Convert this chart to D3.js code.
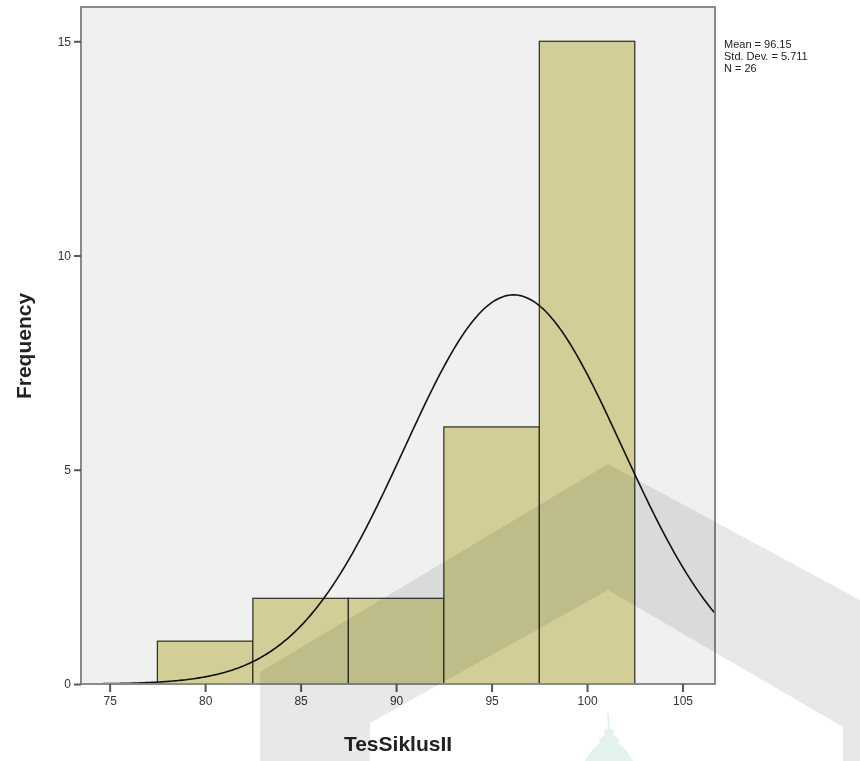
<!DOCTYPE html>
<html>
<head>
<meta charset="utf-8">
<script src="https://cdn.jsdelivr.net/npm/d3@7"></script>
<style>
  body { margin: 0; background: #fff; }
  svg { display: block; }
  .tick text { font-family: "Liberation Sans Narrow", "Liberation Sans", Arial, sans-serif; font-size: 12px; fill: #333; }
</style>
</head>
<body>
<svg id="grafico"></svg>
<script>
// histogram data
const inicioClasses = [77.5, 82.5, 87.5, 92.5, 97.5];
const frequencias = [1, 2, 2, 6, 15];
const larguraClasse = 5;
const ticksX = [75, 80, 85, 90, 95, 100, 105];
const ticksY = [0, 5, 10, 15];
const estatisticas = ['Mean = 96.15', 'Std. Dev. = 5.711', 'N = 26'];
const media = 96.15, desvio = 5.711, n = 26;

const largura = 860, altura = 761;
const margem = { esquerda: 81, direita: 145, superior: 7, inferior: 77 };

const svg = d3.select('#grafico').attr('width', largura).attr('height', altura);

const fnX = d3.scaleLinear().domain([73.5, 106.7]).range([margem.esquerda, largura - margem.direita]);
const fnY = d3.scaleLinear().domain([0, 15.8]).range([altura - margem.inferior, margem.superior]);

// plot background
svg.append('rect')
    .attr('x', fnX.range()[0]).attr('y', fnY.range()[1])
    .attr('width', fnX.range()[1] - fnX.range()[0])
    .attr('height', fnY.range()[0] - fnY.range()[1])
    .attr('fill', '#f0f0f0');

// bars
svg.selectAll('.barra').data(inicioClasses).enter().append('rect')
    .classed('barra', true)
    .attr('x', d => fnX(d))
    .attr('y', (d, i) => fnY(frequencias[i]))
    .attr('width', d => fnX(d + larguraClasse) - fnX(d))
    .attr('height', (d, i) => fnY(0) - fnY(frequencias[i]))
    .attr('fill', '#d3ce97')
    .attr('stroke', '#2b2b20')
    .attr('stroke-width', 1.2);

// normal curve fitted from the shown mean / sd / N
const pontos = d3.range(fnX.domain()[0], fnX.domain()[1] + 0.01, 0.1).map(x => {
    const z = (x - media) / desvio;
    return [x, n * larguraClasse * Math.exp(-0.5 * z * z) / (desvio * Math.sqrt(2 * Math.PI))];
});
svg.append('path')
    .datum(pontos)
    .attr('d', d3.line().x(d => fnX(d[0])).y(d => fnY(d[1])))
    .attr('fill', 'none')
    .attr('stroke', '#111')
    .attr('stroke-width', 1.6);

// frame
svg.append('rect')
    .attr('x', fnX.range()[0]).attr('y', fnY.range()[1])
    .attr('width', fnX.range()[1] - fnX.range()[0])
    .attr('height', fnY.range()[0] - fnY.range()[1])
    .attr('fill', 'none')
    .attr('stroke', '#8a8a8a')
    .attr('stroke-width', 2);

// axes
const eixoX = svg.append('g')
    .attr('transform', 'translate(0,' + fnY(0) + ')')
    .call(d3.axisBottom(fnX).tickValues(ticksX).tickSize(8).tickPadding(4));
const eixoY = svg.append('g')
    .attr('transform', 'translate(' + fnX.range()[0] + ',0)')
    .call(d3.axisLeft(fnY).tickValues(ticksY).tickSize(7).tickPadding(3));
[eixoX, eixoY].forEach(e => {
    e.select('.domain').remove();
    e.selectAll('.tick line').attr('stroke', '#555').attr('stroke-width', 2);
});

// titles
svg.append('text')
    .attr('transform', 'translate(31,' + 346 + ') rotate(-90)')
    .style('text-anchor', 'middle')
    .style('font-family', 'Liberation Sans, Arial, sans-serif')
    .style('font-weight', 'bold')
    .style('font-size', '21px')
    .attr('fill', '#222')
    .text('Frequency');

svg.append('text')
    .attr('x', 398).attr('y', 751)
    .style('text-anchor', 'middle')
    .style('font-family', 'Liberation Sans, Arial, sans-serif')
    .style('font-weight', 'bold')
    .style('font-size', '21px')
    .attr('fill', '#222')
    .text('TesSiklusII');

// stats box
svg.append('g').selectAll('text').data(estatisticas).enter().append('text')
    .attr('x', 724)
    .attr('y', (d, i) => 48 + i * 12)
    .style('font-family', 'Liberation Sans Narrow, Liberation Sans, Arial, sans-serif')
    .style('font-size', '11px')
    .attr('fill', '#222')
    .text(d => d);

// watermark
svg.append('path')
    .attr('d', 'M260,761 L260,672 L608,464 L860,600 L860,761 L843,761 L843,727 L608,590 L370,723 L370,761 Z')
    .attr('fill', '#e6e9e8')
    .style('mix-blend-mode', 'multiply');

svg.append('path')
    .attr('d', 'M607,713 L609,713 L610,728 L614,731 L613,735 L619,739 L618,743 L626,750 L633,761 L585,761 L592,750 L600,743 L599,739 L605,735 L604,731 L608,728 Z')
    .attr('fill', '#e3f2ea');
</script>
</body>
</html>
